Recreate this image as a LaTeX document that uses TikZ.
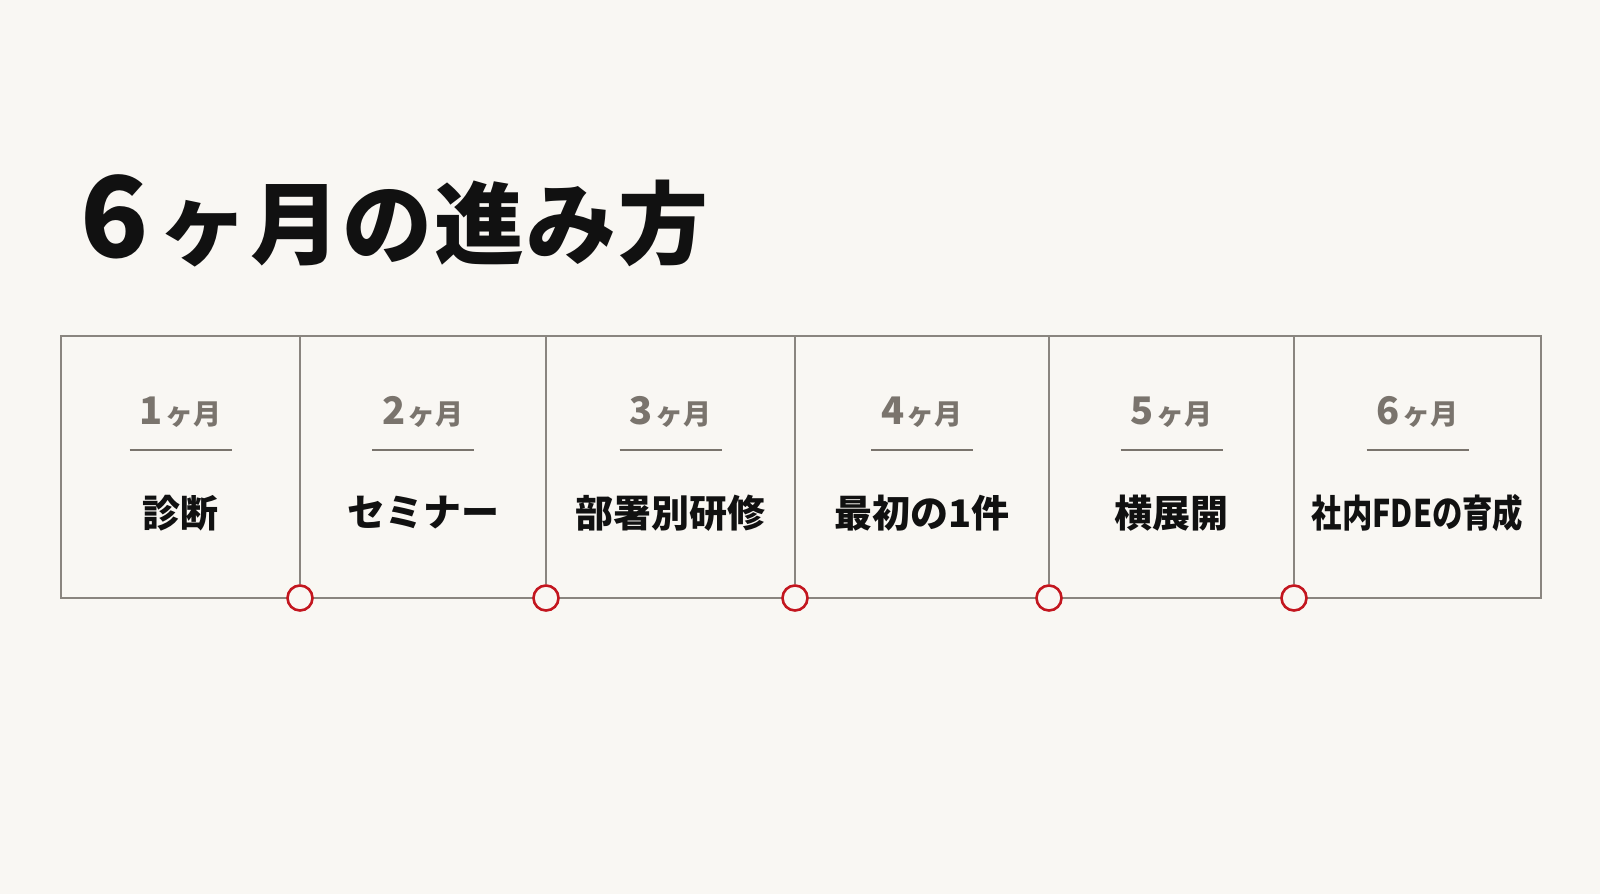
\documentclass[tikz,border=0pt]{standalone}
\usepackage{fontspec}
\usepackage{graphicx}
\newfontfamily\jp{Noto Sans CJK JP}
\definecolor{paper}{HTML}{F9F7F3}
\definecolor{ink}{HTML}{111111}
\definecolor{monthgray}{HTML}{7A746D}
\definecolor{framegray}{HTML}{8A857F}
\definecolor{markred}{HTML}{C3161F}
\usetikzlibrary{calc}

\begin{document}
\begin{tikzpicture}[x=1pt,y=-1pt,
    frame/.style={draw=framegray,line width=1.8pt},
    rule/.style={draw=monthgray,line width=1.4pt},
    month/.style={text=monthgray,font=\jp\bfseries,inner sep=0pt},
    task/.style={text=ink,font=\jp\bfseries\fontsize{38}{38}\selectfont,inner sep=0pt},
    milestone/.style={circle,draw=markred,fill=paper,line width=2.6pt,minimum size=25pt,inner sep=0pt}]
    \fill[paper] (0,0) rectangle (1600,894);
    \useasboundingbox (0,0) rectangle (1600,894);
    \node[anchor=base west,inner sep=0pt,text=ink,font=\jp\bfseries] (title) at (80,257)
        {{\fontsize{112}{112}\selectfont 6}\hspace{10pt}{\fontsize{90}{90}\selectfont ヶ\hspace{2pt}月\hspace{2pt}の\hspace{2pt}進\hspace{2pt}み\hspace{2pt}方}};
    % frame of the six months
    \coordinate (tl) at (61,336);
    \coordinate (br) at (1541,598);
    \draw[frame] (tl) rectangle (br);
    \foreach \i/\l/\r/\t in {1/61/300/診断,2/300/546/セミナー,3/546/795/部署別研修,
            4/795/1049/最初の1件,5/1049/1294/横展開,6/1294/1541/{\scalebox{0.8}[1]{社内FDEの育成}}} {
        \node[month] (m\i) at ({(\l+\r)/2},412)
            {{\fontsize{38}{38}\selectfont\i}\hspace{2pt}{\fontsize{28}{28}\selectfont ヶ月}};
        \coordinate (ul\i) at ({(\l+\r)/2-51},450);
        \coordinate (ur\i) at ({(\l+\r)/2+51},450);
        \draw[rule] (ul\i) -- (ur\i);
        \node[task] (t\i) at ({(\l+\r)/2},513) {\t};
    }
    \foreach \x [count=\k] in {300,546,795,1049,1294} {
        \coordinate (top\k) at (\x,336);
        \node[milestone] (p\k) at (\x,598) {};
        \draw[frame] (top\k) -- (p\k);
    }
\end{tikzpicture}
\end{document}
